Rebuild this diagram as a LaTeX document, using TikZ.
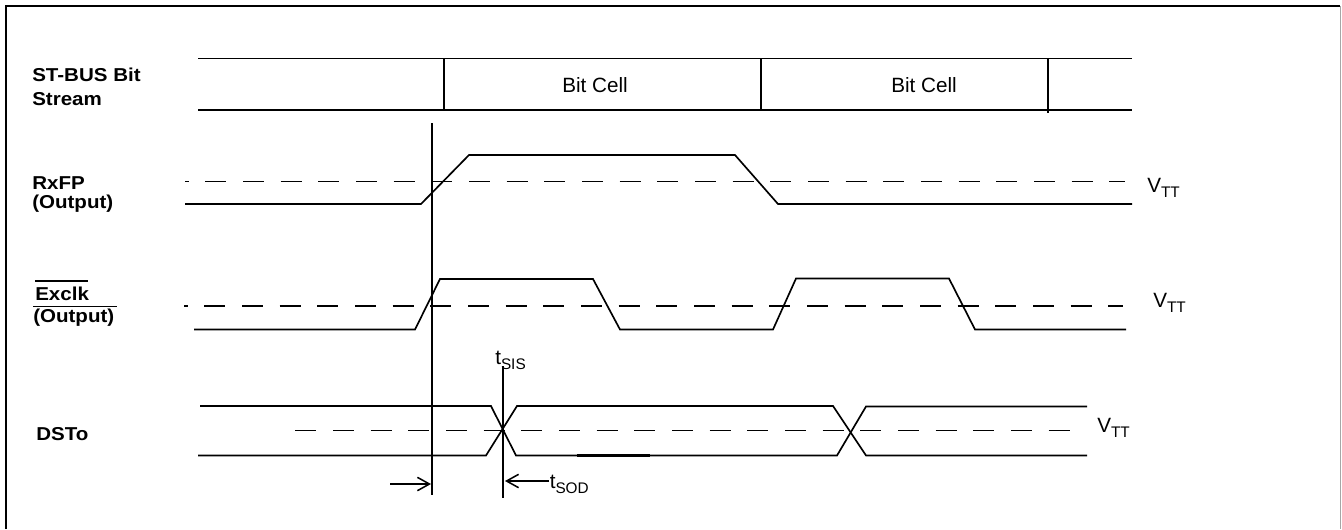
\documentclass[tikz,border=0pt]{standalone}
\usepackage{fontspec}
\usepackage{graphicx}
\setmainfont{Liberation Sans}
\usetikzlibrary{arrows.meta}
\newcommand{\lbl}[1]{\scalebox{1.1}[1]{\fontsize{14}{16}\selectfont\bfseries #1}}
\newcommand{\txt}{\fontsize{15.5}{18}\selectfont}
\newcommand{\mysub}[1]{\raisebox{-4.2pt}{\fontsize{11.5}{13}\selectfont #1}}
\begin{document}
\begin{tikzpicture}[x=0.75pt,y=-0.75pt,
  wave/.style={line width=1.25pt, line join=miter},
  vtt/.style={dash pattern=on 15.75pt off 12.5pt, line width=1.3pt},
  lab/.style={anchor=base west, inner sep=0pt},
  tlab/.style={anchor=base west, inner sep=0pt, font=\txt},
  arr/.style={line width=1.15pt, -{Straight Barb[length=9pt,width=10pt,line width=1.15pt]}}]
\useasboundingbox (0,0) rectangle (1342,529);
% frame
\draw[line width=1.8pt] (6.2,529) -- (6.2,6.2) -- (1340,6.2);
\draw[gray!70, line width=0.9pt] (1340.5,6.2) -- (1340.5,529);

% labels
\node[lab] (st1) at (32,81) {\lbl{ST-BUS Bit}};
\node[lab] (st2) at (32,105.5) {\lbl{Stream}};
\node[lab] (rx1) at (32,189) {\lbl{RxFP}};
\node[lab] (rx2) at (32,208.5) {\lbl{(Output)}};
\node[lab] (ex1) at (35,300.5) {\lbl{Exclk}};
\node[lab] (ex2) at (33,322) {\lbl{(Output)}};
\draw[line width=1.1pt] (35,281) -- (88,281);
\draw[line width=1.1pt] (33,306.5) -- (117,306.5);
\node[lab] (ds) at (36,440) {\lbl{DSTo}};

% ST-BUS bit stream
\draw[wave] (198,58.5) -- (1132,58.5);
\draw[wave] (198,110) -- (1132,110);
\draw[wave] (444,58.5) -- (444,110);
\draw[wave] (761,58.5) -- (761,110);
\draw[wave] (1048,58.5) -- (1048,113);
\node[font=\txt, inner sep=0pt, anchor=base] (bc1) at (595,92.3) {Bit Cell};
\node[font=\txt, inner sep=0pt, anchor=base] (bc2) at (924,92.3) {Bit Cell};

% RxFP
\draw[vtt, dash phase=13pt] (185,181.5) -- (1125,181.5);
\draw[wave] (185,204) -- (421,204) -- (469,155) -- (735,155) -- (778,204) -- (1132,204);
\node[tlab] (v1) at (1147,192) {V\mysub{TT}};

% Exclk
\draw[vtt, dash phase=13pt] (184,306) -- (1123,306);
\draw[wave] (194,329.5) -- (415,329.5) -- (440,279) -- (593,279) -- (620,329.5)
  -- (773,329.5) -- (796,278.5) -- (949,278.5) -- (975,329.5) -- (1126,329.5);
\node[tlab] (v2) at (1153,307) {V\mysub{TT}};

% DSTo
\draw[vtt, dash phase=22pt] (287,430.5) -- (1078,430.5);
\draw[wave] (200,406) -- (491,406) -- (516,455.5) -- (837,455.5) -- (866,406.5) -- (1087,406.5);
\draw[wave] (198,455.5) -- (486,455.5) -- (517,406) -- (833,406) -- (866,455.5) -- (1087,455.5);
\draw[line width=1.9pt] (577,455.5) -- (650,455.5);
\node[tlab] (v3) at (1097,432) {V\mysub{TT}};

% reference lines
\coordinate (rtop) at (432,123);
\coordinate (rbot) at (432,495);
\draw[line width=1.2pt] (rtop) -- (rbot);
\coordinate (stop) at (503,366);
\coordinate (sbot) at (503,498);
\draw[line width=1.2pt] (stop) -- (sbot);

% timing labels
\node[tlab] (tsis) at (495,364) {t\mysub{SIS}};
\coordinate (a1s) at (390,484);
\coordinate (a1e) at (431,484);
\draw[arr] (a1s) -- (a1e);
\coordinate (a2s) at (549,481);
\coordinate (a2e) at (505,481);
\draw[arr] (a2s) -- (a2e);
\node[tlab] (tsod) at (549.5,488) {t\mysub{SOD}};
\end{tikzpicture}
\end{document}
